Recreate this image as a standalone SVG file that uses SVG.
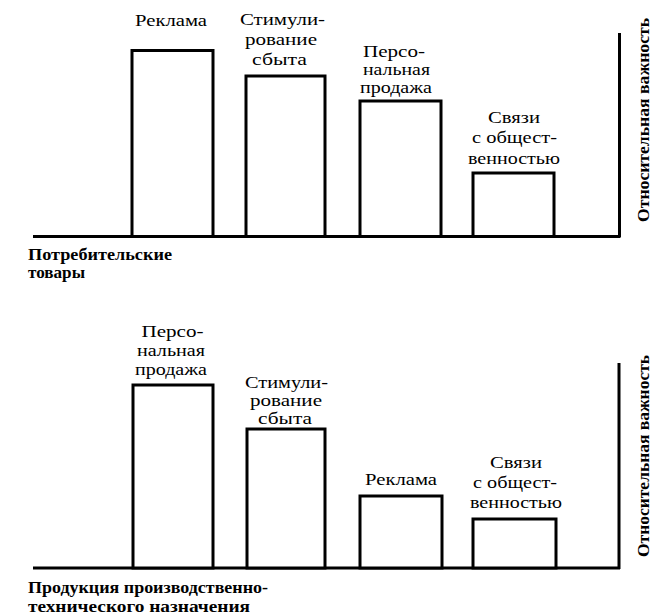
<svg xmlns="http://www.w3.org/2000/svg" width="654" height="616" viewBox="0 0 654 616">
<style>
.bar{fill:#fff;stroke:#000;stroke-width:3}
.ax{fill:none;stroke:#000;stroke-width:3}
.lbl{font-family:'Liberation Serif','Times New Roman',serif;font-size:16px;fill:#000;text-anchor:middle}
.bl{font-family:'Liberation Serif','Times New Roman',serif;font-size:16px;font-weight:bold;fill:#000}
.vl{font-family:'Liberation Serif','Times New Roman',serif;font-size:16px;font-weight:bold;fill:#000;text-anchor:middle}
</style>
<rect width="654" height="616" fill="#fff"/>
<g id="connectors">
<path class="ax" d="M33 236.5H620.5M619.5 237V33"/>
<path class="ax" d="M33 568H620M619 569V363"/>
</g>
<g id="top-chart">
<g id="t-reklama">
<rect class="bar" x="132" y="50.5" width="81" height="186"/>
<text class="lbl" x="171" y="26" textLength="72" lengthAdjust="spacingAndGlyphs">Реклама</text>
</g>
<g id="t-stimul">
<rect class="bar" x="246" y="76" width="79" height="160.5"/>
<text class="lbl" x="282.5" y="25" textLength="85" lengthAdjust="spacingAndGlyphs">Стимули-</text>
<text class="lbl" x="281" y="45" textLength="72" lengthAdjust="spacingAndGlyphs">рование</text>
<text class="lbl" x="279.5" y="65" textLength="55" lengthAdjust="spacingAndGlyphs">сбыта</text>
</g>
<g id="t-personal">
<rect class="bar" x="360" y="101" width="81" height="135.5"/>
<text class="lbl" x="394" y="57" textLength="62" lengthAdjust="spacingAndGlyphs">Персо-</text>
<text class="lbl" x="396.5" y="75" textLength="67" lengthAdjust="spacingAndGlyphs">нальная</text>
<text class="lbl" x="396" y="93" textLength="72" lengthAdjust="spacingAndGlyphs">продажа</text>
</g>
<g id="t-pr">
<rect class="bar" x="473" y="173" width="81" height="63.5"/>
<text class="lbl" x="514" y="123" textLength="52" lengthAdjust="spacingAndGlyphs">Связи</text>
<text class="lbl" x="514.5" y="143" textLength="85" lengthAdjust="spacingAndGlyphs">с общест-</text>
<text class="lbl" x="514" y="164" textLength="92" lengthAdjust="spacingAndGlyphs">венностью</text>
</g>
<g id="t-caption">
<text class="bl" x="28" y="260" textLength="144" lengthAdjust="spacingAndGlyphs">Потребительские</text>
<text class="bl" x="28" y="278" textLength="57" lengthAdjust="spacingAndGlyphs">товары</text>
</g>
<g id="t-axis-label">
<text class="vl" transform="translate(649 120) rotate(-90)" textLength="204" lengthAdjust="spacingAndGlyphs">Относительная важность</text>
</g>
</g>
<g id="bottom-chart">
<g id="b-personal">
<rect class="bar" x="133" y="385" width="80" height="183"/>
<text class="lbl" x="172.5" y="337" textLength="62" lengthAdjust="spacingAndGlyphs">Персо-</text>
<text class="lbl" x="171" y="356" textLength="68" lengthAdjust="spacingAndGlyphs">нальная</text>
<text class="lbl" x="171" y="375" textLength="72" lengthAdjust="spacingAndGlyphs">продажа</text>
</g>
<g id="b-stimul">
<rect class="bar" x="247" y="429" width="78" height="139"/>
<text class="lbl" x="286.5" y="387.5" textLength="83" lengthAdjust="spacingAndGlyphs">Стимули-</text>
<text class="lbl" x="286" y="405.5" textLength="72" lengthAdjust="spacingAndGlyphs">рование</text>
<text class="lbl" x="285" y="423.5" textLength="54" lengthAdjust="spacingAndGlyphs">сбыта</text>
</g>
<g id="b-reklama">
<rect class="bar" x="360" y="496" width="82" height="72"/>
<text class="lbl" x="401" y="485" textLength="72" lengthAdjust="spacingAndGlyphs">Реклама</text>
</g>
<g id="b-pr">
<rect class="bar" x="473" y="519" width="83" height="49"/>
<text class="lbl" x="516" y="468" textLength="52" lengthAdjust="spacingAndGlyphs">Связи</text>
<text class="lbl" x="515" y="488" textLength="84" lengthAdjust="spacingAndGlyphs">с общест-</text>
<text class="lbl" x="516" y="508" textLength="92" lengthAdjust="spacingAndGlyphs">венностью</text>
</g>
<g id="b-caption">
<text class="bl" x="28" y="593" textLength="240" lengthAdjust="spacingAndGlyphs">Продукция производственно-</text>
<text class="bl" x="28" y="612" textLength="222" lengthAdjust="spacingAndGlyphs">технического назначения</text>
</g>
<g id="b-axis-label">
<text class="vl" transform="translate(649 456) rotate(-90)" textLength="202" lengthAdjust="spacingAndGlyphs">Относительная важность</text>
</g>
</g>
</svg>
